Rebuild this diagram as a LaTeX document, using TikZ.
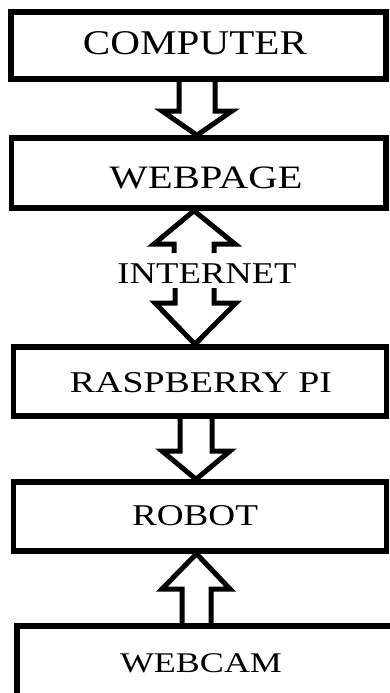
\documentclass[tikz,border=0pt]{standalone}
\usepackage{fontspec}
\setmainfont{Liberation Serif}
\usetikzlibrary{calc}
\newcommand\stxt[3]{{\fontsize{#1}{#1}\selectfont\resizebox{#2}{\height}{#3}}}
\begin{document}
\begin{tikzpicture}[x=1pt,y=-1pt,
  box/.style={draw=black, line width=5.5pt, rectangle, inner sep=0pt},
  blk/.style={draw=black, line width=5pt, line join=miter},
  lbl/.style={anchor=base, inner sep=0pt, text=black}]
\useasboundingbox (0,0) rectangle (390,693);
\clip (0,0) rectangle (390,693);
% boxes
\node[box, minimum width=375pt, minimum height=67pt] (computer) at (198.5,45.5) {};
\node[box, minimum width=374.5pt, minimum height=70pt] (webpage) at (198.75,173) {};
\node[box, minimum width=373pt, minimum height=69pt] (rpi) at (200,381.5) {};
\node[box, minimum width=373pt, minimum height=69pt] (robot) at (200,516.5) {};
\node[box, minimum width=403pt, minimum height=134pt] (webcam) at (218.5,693) {};
% texts
\node[lbl] (tcomputer) at (195,55) {\stxt{34.7}{224pt}{COMPUTER}};
\node[lbl] (twebpage) at (206,188) {\stxt{32.7}{193pt}{WEBPAGE}};
\node[lbl] (tinternet) at (207,283) {\stxt{30.2}{179pt}{INTERNET}};
\node[lbl] (trpi) at (201,392) {\stxt{30.2}{262pt}{RASPBERRY PI}};
\node[lbl] (trobot) at (195,525) {\stxt{30.2}{126pt}{ROBOT}};
\node[lbl] (twebcam) at (201,672) {\stxt{28.5}{162pt}{WEBCAM}};
% block arrows
\draw[blk] (179,0 |- computer.south) -- (179,111) -- (162,111) -- (197,0 |- webpage.north)
  -- (232,111) -- (215,111) -- (215,0 |- computer.south);
\coordinate (iu1) at (174,253);
\coordinate (iu2) at (214,253);
\coordinate (il1) at (175,288);
\coordinate (il2) at (214,288);
\draw[blk] (iu1) -- (174,244) -- (154,244) -- (194,0 |- webpage.south)
  -- (235,244) -- (214,244) -- (iu2);
\draw[blk] (il1) -- (175,303) -- (155,303) -- (195,0 |- rpi.north)
  -- (236,303) -- (214,303) -- (il2);
\draw[blk] (180,0 |- rpi.south) -- (180,451) -- (162,451) -- (196,0 |- robot.north)
  -- (230,451) -- (212,451) -- (212,0 |- rpi.south);
\draw[blk] (182,0 |- webcam.north) -- (182,589) -- (162,589) -- (196.5,0 |- robot.south)
  -- (230,589) -- (211,589) -- (211,0 |- webcam.north);
\end{tikzpicture}
\end{document}
